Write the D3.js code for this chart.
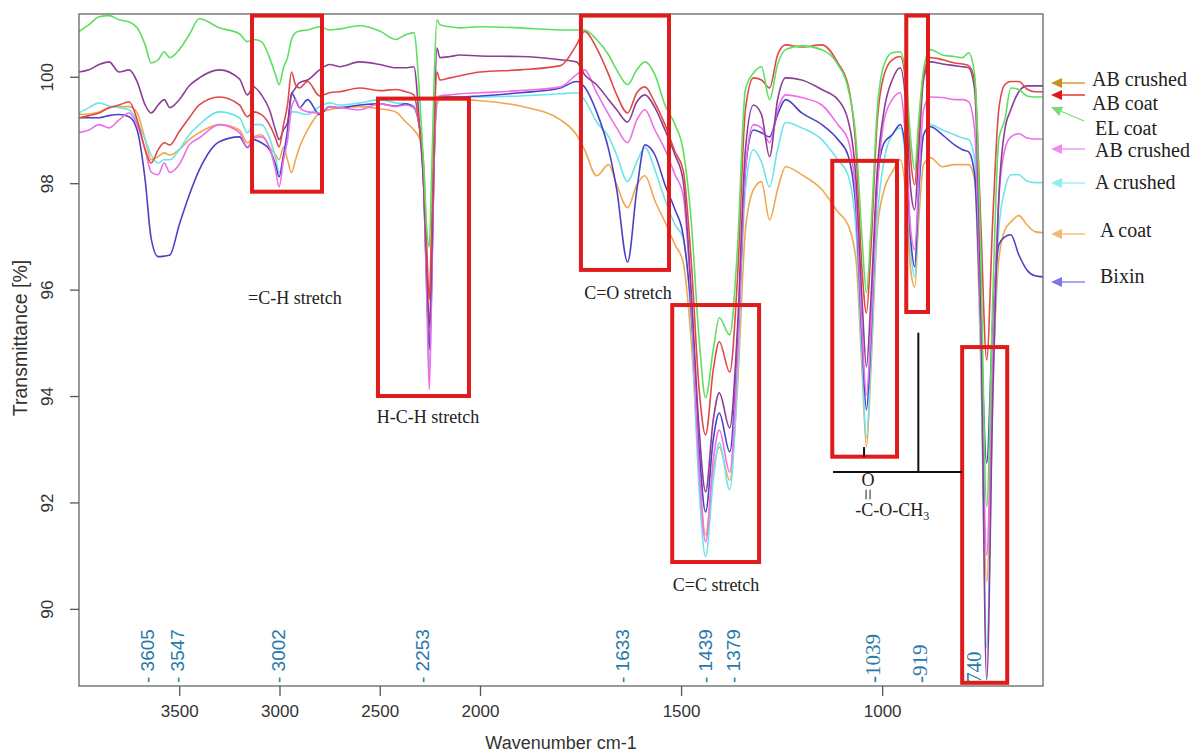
<!DOCTYPE html>
<html><head><meta charset="utf-8">
<script src="https://cdn.jsdelivr.net/npm/d3@7"></script>
<style>body{margin:0;background:#fff}svg{display:block}</style>
</head><body><svg id="c" width="1200" height="753"></svg>
<script>
const wavenumbers = [4000,3950,3900,3850,3800,3750,3710,3670,3640,3605,
 3575,3547,3500,3450,3400,3300,3200,3160,3130,3090,
 3050,3020,3002,2980,2960,2940,2920,2900,2860,2800,
 2750,2700,2600,2500,2420,2370,2330,2300,2280,2265,
 2253,2242,2230,2215,2200,2150,2100,2000,1900,1800,
 1760,1740,1710,1680,1660,1633,1610,1590,1565,1540,
 1515,1495,1475,1455,1439,1420,1405,1379,1360,1340,
 1320,1300,1280,1260,1240,1200,1150,1110,1085,1065,
 1050,1039,1028,1012,995,975,955,940,929,919,
 909,897,880,850,820,800,785,770,755,740,
 725,710,695,680,660,640,620,600];

const elCoat = [100.85,100.98,101.13,101.15,101.07,101.03,100.92,100.60,100.26,100.32,
 100.47,100.36,100.51,100.79,101.09,100.92,100.81,100.66,100.70,100.66,
 100.36,100.04,99.85,100.17,100.36,100.70,100.83,100.86,100.88,100.94,
 100.88,100.90,100.96,100.86,100.70,100.79,100.83,99.57,98.25,97.12,
 96.80,98.06,99.76,101.07,100.98,100.94,100.92,100.94,100.92,100.88,
 100.88,100.88,100.70,100.41,100.13,99.85,100.13,100.28,100.04,99.47,
 99.10,98.63,97.31,95.06,93.97,94.87,95.47,95.15,96.75,99.76,
 100.07,100.19,99.57,100.23,100.51,100.58,100.51,100.23,99.79,98.82,
 96.96,95.94,97.12,99.38,100.23,100.45,100.47,99.94,98.82,98.25,
 99.19,100.13,100.51,100.41,100.38,100.36,100.45,100.04,96.75,91.92,
 95.81,98.82,99.19,99.79,99.76,99.64,99.62,99.62];

const abCoat = [99.23,99.27,99.32,99.42,99.47,99.53,99.19,98.63,98.38,98.63,
 98.76,98.72,98.97,99.23,99.47,99.62,99.47,99.25,99.34,99.29,
 99.10,98.85,98.68,99.10,99.47,100.09,99.85,99.79,99.91,99.64,
 99.70,99.72,99.79,99.74,99.76,99.72,99.66,99.00,98.25,96.75,
 95.81,97.12,98.82,100.09,99.94,99.98,100.02,100.09,100.13,100.21,
 100.60,100.85,100.54,100.04,99.66,99.32,99.70,99.81,99.51,99.10,
 98.59,98.25,96.56,94.12,93.27,94.49,95.02,94.45,96.18,99.38,
 99.98,99.94,99.79,100.41,100.60,100.56,100.60,100.26,99.85,98.63,
 96.37,95.56,96.75,99.19,100.04,100.32,100.38,99.76,98.44,97.97,
 99.00,100.04,100.36,100.32,100.26,100.24,100.21,99.94,97.31,94.68,
 97.31,99.38,99.85,99.91,99.91,99.77,99.72,99.72];

const abCrushed = [100.09,100.13,100.23,100.28,100.09,100.13,99.91,99.47,99.32,99.47,
 99.57,99.42,99.57,99.83,99.98,100.13,99.96,99.66,99.81,99.66,
 99.38,99.00,98.82,99.00,99.14,99.66,99.79,99.89,99.94,100.13,
 100.23,100.19,100.28,100.23,100.17,100.17,100.19,99.00,97.88,96.37,
 95.30,96.37,98.63,100.54,100.36,100.38,100.41,100.39,100.38,100.32,
 100.28,100.04,99.85,99.57,99.38,99.15,99.53,99.66,99.42,99.00,
 98.53,98.06,95.99,93.36,92.20,93.55,94.06,93.40,95.24,98.63,
 99.47,99.29,98.50,99.57,99.98,99.94,99.76,99.57,99.19,98.06,
 95.81,94.55,95.81,98.25,99.38,99.94,100.17,99.38,97.88,97.50,
 98.63,99.94,100.28,100.24,100.21,100.19,100.17,99.76,95.81,88.67,
 93.93,97.69,99.00,99.38,99.72,99.83,99.83,99.83];

const abCrushed2 = [98.95,99.00,99.10,99.04,99.19,99.32,99.10,98.63,98.21,98.16,
 98.38,98.20,98.35,98.72,98.85,99.10,98.95,98.68,98.85,98.87,
 98.67,98.25,97.93,98.44,98.82,99.42,99.57,99.42,99.34,99.32,
 99.44,99.42,99.38,99.49,99.44,99.47,99.42,99.00,97.88,95.81,
 94.12,95.81,98.25,99.62,99.64,99.66,99.68,99.70,99.74,99.81,
 100.04,100.13,99.70,99.29,99.04,98.76,99.19,99.38,99.00,98.63,
 98.16,97.78,95.81,92.61,91.26,92.80,93.36,92.57,94.68,98.25,
 99.10,99.04,98.76,99.38,99.66,99.61,99.47,99.10,98.82,97.69,
 95.24,94.02,95.24,97.88,99.19,99.57,99.70,98.63,97.12,96.75,
 98.06,99.38,99.62,99.61,99.57,99.57,99.53,99.00,95.43,91.01,
 94.87,97.69,98.63,98.87,98.93,98.85,98.83,98.83];

const aCrushed = [99.32,99.42,99.51,99.45,99.42,99.38,99.15,98.82,98.53,98.38,
 98.44,98.44,98.63,98.91,99.10,99.34,99.23,98.95,99.10,99.10,
 98.85,98.48,98.20,98.48,98.82,99.34,99.34,99.32,99.29,99.44,
 99.51,99.47,99.51,99.57,99.51,99.49,99.45,99.00,97.88,95.81,
 94.40,95.81,98.25,99.57,99.61,99.62,99.62,99.62,99.64,99.68,
 99.70,99.57,99.15,98.87,98.53,98.03,98.40,98.67,98.25,97.69,
 97.22,96.97,95.43,92.24,90.98,92.42,93.12,92.24,94.30,97.88,
 98.63,98.40,97.93,98.63,99.14,99.04,98.82,98.44,98.16,97.12,
 94.68,93.21,94.68,97.31,98.44,98.91,99.04,98.25,96.75,96.24,
 97.69,98.91,99.10,99.00,98.91,98.85,98.82,98.44,94.87,89.28,
 93.93,97.12,97.88,98.16,98.16,98.04,98.01,98.01];

const aCoat = [99.29,99.30,99.34,99.42,99.44,99.44,99.32,98.82,98.44,98.50,
 98.57,98.53,98.63,98.82,98.95,99.10,99.00,98.76,98.87,98.91,
 98.68,98.53,98.44,98.68,98.44,98.20,98.44,98.68,99.00,99.32,
 99.38,99.42,99.44,99.40,99.34,99.15,99.00,98.82,97.88,96.18,
 95.06,96.18,98.25,99.47,99.57,99.57,99.57,99.55,99.45,99.19,
 98.91,98.63,98.14,98.35,97.97,97.54,97.97,98.14,97.67,97.27,
 96.84,96.52,95.06,92.61,91.39,92.61,93.04,92.42,94.12,97.12,
 97.88,98.03,97.31,97.88,98.31,98.16,97.88,97.46,97.22,96.56,
 94.49,93.04,94.49,97.12,97.88,98.21,98.44,97.69,96.37,96.05,
 97.31,98.35,98.48,98.31,98.35,98.35,98.35,98.06,94.68,90.51,
 94.30,96.56,97.12,97.27,97.39,97.22,97.09,97.07];

const bixin = [99.23,99.23,99.23,99.27,99.29,99.25,99.00,98.06,96.96,96.62,
 96.63,96.65,97.22,97.78,98.25,98.78,98.87,98.67,98.82,98.76,
 98.63,98.35,98.12,98.53,99.00,99.70,99.57,99.42,99.57,99.29,
 99.44,99.42,99.47,99.49,99.45,99.49,99.42,99.00,97.88,95.99,
 94.87,95.99,98.25,99.61,99.62,99.62,99.62,99.64,99.70,99.79,
 99.91,99.81,99.34,98.63,97.88,96.52,97.88,98.72,98.53,97.97,
 97.50,97.03,95.62,92.99,91.82,93.18,93.68,92.95,94.87,98.25,
 99.00,98.95,98.87,99.29,99.57,99.32,99.10,98.82,98.53,97.50,
 95.06,93.74,95.06,98.06,98.76,98.91,99.10,98.44,96.96,96.43,
 97.88,98.91,99.06,98.91,98.72,98.63,98.59,98.16,95.43,92.74,
 95.43,96.84,96.99,97.03,96.65,96.37,96.26,96.24];

const xTicks = [3500, 3000, 2500, 2000, 1500, 1000];
const yTicks = [90, 92, 94, 96, 98, 100];
const markerWavenumbers = [3605, 3547, 3002, 2253, 1633, 1439, 1379, 1039, 919, 740];
const markerLabels = ["- 3605", "- 3547", "- 3002", "- 2253", "- 1633", "- 1439", "- 1379", "-1039", "-919", "740"];
const legendLabels = ["AB crushed", "AB coat", "EL coat", "AB crushed", "A crushed", "A coat", "Bixin"];

const svg = d3.select("#c");
const L = 79, R = 1043, T = 14, B = 686;
const x = d3.scaleLinear().domain([4000, 2000, 600]).range([L, 480, R]);
const y = d3.scaleLinear().domain([88.55, 101.18]).range([B, T]);
const sans = "'Liberation Sans', Arial, sans-serif";
const serif = "'Liberation Serif', 'Times New Roman', serif";

svg.append("defs").append("clipPath").attr("id", "clip")
  .append("rect").attr("x", L).attr("y", T).attr("width", R - L).attr("height", B - T);

// series (draw order)
const series = [
  {v: aCoat, c: "#f0a850"},
  {v: aCrushed, c: "#6ee4ec"},
  {v: bixin, c: "#4a42c6"},
  {v: abCrushed2, c: "#ee6ee9"},
  {v: abCrushed, c: "#8c3d96"},
  {v: abCoat, c: "#e24848"},
  {v: elCoat, c: "#5ee05e"}
];
const line = d3.line().x(d => x(d[0])).y(d => y(d[1])).curve(d3.curveMonotoneX);
const g = svg.append("g").attr("clip-path", "url(#clip)");
series.forEach(s => {
  g.append("path").attr("d", line(wavenumbers.map((w, i) => [w, s.v[i]])))
    .attr("fill", "none").attr("stroke", s.c).attr("stroke-width", 1.6)
    .attr("stroke-linejoin", "round");
});

// frame
svg.append("rect").attr("x", L).attr("y", T).attr("width", R - L).attr("height", B - T)
  .attr("fill", "none").attr("stroke", "#666").attr("stroke-width", 1.3);

// x axis
const xa = svg.append("g").attr("transform", `translate(0,${B})`)
  .call(d3.axisBottom(x).tickValues(xTicks).tickSize(10).tickFormat(d3.format("d")));
xa.select(".domain").remove();
xa.selectAll("line").attr("stroke", "#555").attr("stroke-width", 1.3);
xa.selectAll("text").attr("font-family", sans).attr("font-size", 17).attr("fill", "#333").attr("dy", "1.05em");

// y axis
const ya = svg.append("g").attr("transform", `translate(${L},0)`)
  .call(d3.axisLeft(y).tickValues(yTicks).tickSize(9).tickFormat(d3.format("d")));
ya.select(".domain").remove();
ya.selectAll("line").attr("stroke", "#555").attr("stroke-width", 1.3);
ya.selectAll("text").attr("font-family", sans).attr("font-size", 17).attr("fill", "#333")
  .attr("x", null).attr("dy", null).attr("text-anchor", "middle")
  .attr("transform", "translate(-26,0) rotate(-90)");

svg.append("text").attr("x", (L + R) / 2).attr("y", 749).attr("text-anchor", "middle")
  .attr("font-family", sans).attr("font-size", 18).attr("fill", "#333").text("Wavenumber cm-1");
svg.append("text").attr("transform", `translate(27,338) rotate(-90)`).attr("text-anchor", "middle")
  .attr("font-family", sans).attr("font-size", 19.5).attr("fill", "#333").text("Transmittance [%]");

// marker labels (small hand-placed nudges as in the original figure)
const markerNudge = [-11, 7, -1, -7, -6, -1, 3, 7, 5, -13];
markerWavenumbers.forEach((w, i) => {
  const isSerif = i >= 7;
  svg.append("text").attr("transform", `translate(${x(w) + markerNudge[i] + 7},683) rotate(-90)`)
    .attr("font-family", isSerif ? serif : sans).attr("font-size", isSerif ? 21 : 19)
    .attr("fill", "#2a79a8").text(markerLabels[i]);
});

// red boxes (data coords)
const boxes = [[3137, 2788, 101.15, 97.84], [2509, 2055, 99.59, 94.00], [1749, 1530, 101.15, 96.37],
  [1522, 1306, 95.71, 90.88], [1124, 963, 98.42, 92.86], [940, 886, 101.15, 95.58], [801, 689, 94.92, 88.61]];
boxes.forEach(b => {
  svg.append("rect").attr("x", x(b[0])).attr("y", y(b[2]))
    .attr("width", x(b[1]) - x(b[0])).attr("height", y(b[3]) - y(b[2]))
    .attr("fill", "none").attr("stroke", "#e01b1b").attr("stroke-width", 4);
});

// annotation lines
const blk = (w1, v1, w2, v2) => svg.append("line").attr("x1", x(w1)).attr("y1", y(v1))
  .attr("x2", x(w2)).attr("y2", y(v2)).attr("stroke", "#111").attr("stroke-width", 2);
blk(1122, 92.57, 801, 92.57);
blk(910, 95.19, 910, 92.57);
blk(1045, 93.04, 1045, 92.86);

// annotation texts
const ann = (w, v, t, size) => svg.append("text").attr("x", x(w)).attr("y", y(v)).attr("text-anchor", "middle")
  .attr("font-family", serif).attr("font-size", size || 18).attr("fill", "#222").text(t);
ann(2923, 95.73, "=C-H stretch");
ann(2259, 93.50, "H-C-H  stretch");
ann(1632, 95.83, "C=O  stretch");
ann(1413, 90.34, "C=C stretch");
ann(1035, 92.30, "O", 18);
[-2, 2].forEach(d => svg.append("line").attr("x1", x(1035) + d).attr("x2", x(1035) + d)
  .attr("y1", y(92.24)).attr("y2", y(92.06)).attr("stroke", "#222").attr("stroke-width", 1));
const ch = svg.append("text").attr("x", x(975)).attr("y", y(91.75)).attr("text-anchor", "middle")
  .attr("font-family", serif).attr("font-size", 18).attr("fill", "#222");
ch.append("tspan").text("-C-O-CH");
ch.append("tspan").attr("font-size", 12).attr("dy", 4).text("3");

// legend (arrows pointing at series ends)
const legendColors = ["#c8901c", "#e01818", "#7ada7a", "#f08ef0", "#8eeef0", "#f2b86c", "#7c78e0"];
const arrowY = [83, 95, 107, 149, 183, 234, 282];
const lineEnd = [[1085, 83], [1085, 95], [1084, 121], [1085, 149], [1085, 183], [1085, 234], [1085, 282]];
const textPos = [[1092, 86], [1092, 110], [1095, 135], [1095, 157], [1095, 189], [1100, 237], [1100, 283]];
legendLabels.forEach((lab, i) => {
  const tip = [1051, arrowY[i]], end = lineEnd[i];
  const dx = end[0] - tip[0], dy = end[1] - tip[1], len = Math.hypot(dx, dy);
  const ux = dx / len, uy = dy / len, px = -uy, py = ux;
  const bx = tip[0] + ux * 11, by = tip[1] + uy * 11;
  svg.append("line").attr("x1", bx - ux * 2).attr("y1", by - uy * 2).attr("x2", end[0]).attr("y2", end[1])
    .attr("stroke", legendColors[i]).attr("stroke-width", 1.3);
  svg.append("path").attr("d", `M${tip[0]},${tip[1]}L${bx + px * 5},${by + py * 5}L${bx - px * 5},${by - py * 5}Z`)
    .attr("fill", legendColors[i]);
  svg.append("text").attr("x", textPos[i][0]).attr("y", textPos[i][1])
    .attr("font-family", serif).attr("font-size", 20).attr("fill", "#222").text(lab);
});
</script></body></html>
